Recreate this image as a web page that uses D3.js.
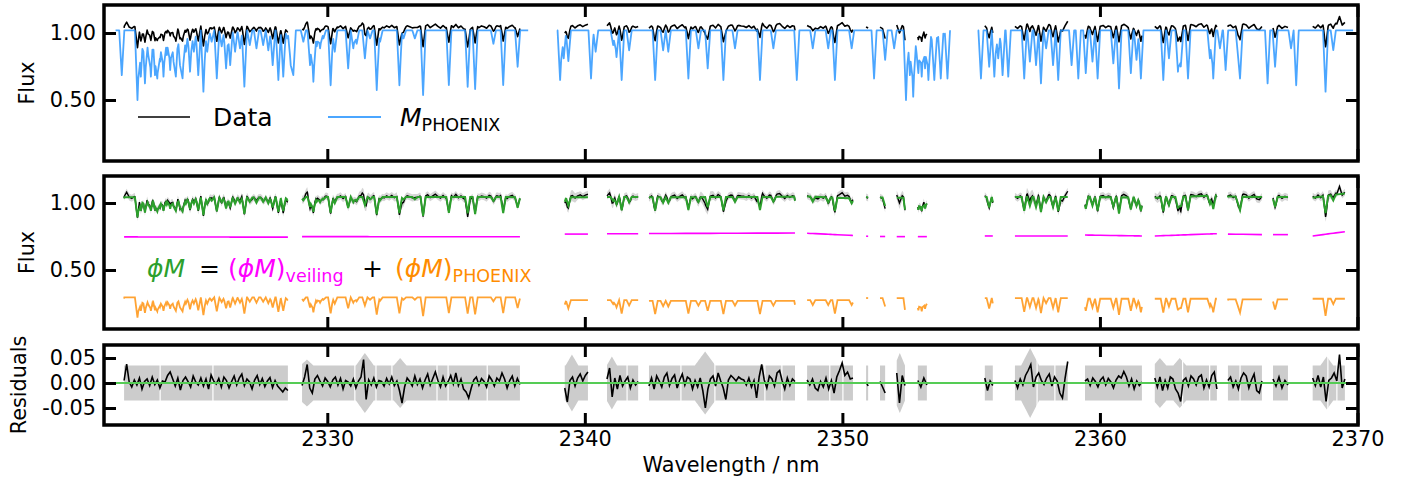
<!DOCTYPE html>
<html><head><meta charset="utf-8">
<script src="https://cdn.jsdelivr.net/npm/d3@7"></script>
<style>body{margin:0;background:#fff}svg{display:block}text{font-family:"DejaVu Sans",sans-serif}</style>
</head><body><svg id="chart" width="1416" height="485"></svg>
<script>
// ---------- axis ticks ----------
const xTickValues = [2330, 2340, 2350, 2360, 2370];
const fluxTickValues = [0.5, 1.0];
const residTickValues = [-0.05, 0.0, 0.05];

// ---------- PHOENIX model: coverage windows and absorption lines ----------
const modelStart = [2321.78, 2338.92, 2355.26];
const modelEnd   = [2337.80, 2354.18, 2369.83];
const modelContinuum = 1.02;
const lineHalfWidth = 0.1;
const lineCenters = [
  2322.02, 2322.63, 2322.76, 2322.92, 2323.05, 2323.15, 2323.23, 2323.31, 2323.40, 2323.51,
  2323.64, 2323.77, 2323.90, 2324.03, 2324.12, 2324.28, 2324.38, 2324.51, 2324.67, 2324.82,
  2324.99, 2325.19, 2325.34, 2325.51, 2325.71, 2325.90, 2326.07, 2326.23, 2326.42, 2326.61,
  2326.78, 2326.99, 2327.25, 2327.51, 2327.71, 2327.88, 2328.10, 2328.29, 2328.45, 2328.58,
  2328.68, 2329.07, 2329.33, 2329.46, 2329.59, 2329.72, 2329.85, 2330.13, 2330.29, 2330.81,
  2331.01, 2331.14, 2331.46, 2331.66, 2331.92, 2332.05, 2332.80, 2332.96, 2333.40, 2333.72,
  2334.72, 2335.45, 2335.74, 2336.45, 2336.83, 2337.39,
  2339.04, 2339.18, 2339.36, 2340.24, 2340.42, 2341.10, 2341.23, 2341.43, 2341.72, 2342.73,
  2343.04, 2343.24, 2344.02, 2344.41, 2344.77, 2345.38, 2345.83, 2346.80, 2347.32, 2348.23,
  2348.85, 2349.45, 2349.71, 2350.36, 2351.23, 2351.66, 2352.01, 2352.47, 2352.62, 2352.75,
  2352.88, 2352.95, 2353.08, 2353.21, 2353.34, 2353.47, 2353.57, 2353.69, 2353.82, 2353.95,
  2354.08,
  2355.38, 2355.70, 2355.90, 2356.05, 2356.22, 2356.44, 2357.06, 2357.28, 2357.52, 2357.71,
  2357.91, 2358.18, 2358.38, 2358.90, 2359.16, 2359.45, 2359.71, 2359.91, 2360.52, 2360.74,
  2361.20, 2361.42, 2361.59, 2362.46, 2362.68, 2363.03, 2363.14, 2363.42, 2364.27, 2364.40,
  2364.66, 2364.88, 2365.37, 2365.44, 2366.51, 2366.80, 2367.42, 2367.62, 2368.76, 2369.06
];
const lineMinima = [
  0.686, 0.500, 0.674, 0.624, 0.835, 0.674, 0.840, 0.686, 0.660, 0.786,
  0.674, 0.835, 0.724, 0.786, 0.674, 0.760, 0.661, 0.860, 0.711, 0.860,
  0.686, 0.562, 0.860, 0.935, 0.661, 0.900, 0.736, 0.760, 0.860, 0.885,
  0.600, 0.910, 0.885, 0.910, 0.870, 0.760, 0.649, 0.674, 0.960, 0.760,
  0.686, 0.935, 0.760, 0.636, 0.900, 0.885, 0.960, 0.610, 0.860, 0.736,
  0.885, 0.920, 0.810, 0.960, 0.574, 0.935, 0.610, 0.960, 0.960, 0.537,
  0.612, 0.599, 0.582, 0.920, 0.612, 0.748,
  0.649, 0.810, 0.790, 0.660, 0.860, 0.910, 0.820, 0.649, 0.870, 0.649,
  0.870, 0.860, 0.660, 0.885, 0.736, 0.649, 0.885, 0.649, 0.885, 0.649,
  0.885, 0.885, 0.649, 0.885, 0.660, 0.800, 0.885, 0.500, 0.686, 0.525,
  0.850, 0.700, 0.674, 0.736, 0.649, 0.950, 0.649, 0.950, 0.660, 0.985,
  0.660,
  0.660, 0.748, 0.674, 0.810, 0.686, 0.674, 0.660, 0.786, 0.760, 0.624,
  0.885, 0.760, 0.649, 0.760, 0.660, 0.700, 0.786, 0.660, 0.773, 0.587,
  0.700, 0.800, 0.660, 0.649, 0.810, 0.711, 0.750, 0.660, 0.810, 0.660,
  0.885, 0.724, 0.810, 0.660, 0.624, 0.748, 0.885, 0.610, 0.562, 0.873
];

// ---------- observed chunks: ranges, veiling level, PHOENIX weight, residuals ----------
const chunkStart = [2322.11, 2329.02, 2339.22, 2340.86, 2342.49, 2348.63, 2350.92, 2351.46, 2352.11,
  2352.93, 2355.53, 2356.70, 2359.42, 2362.13, 2364.97, 2366.72, 2368.26];
const chunkEnd = [2328.47, 2337.48, 2340.12, 2342.07, 2348.16, 2350.41, 2351.00, 2351.66, 2352.43,
  2353.28, 2355.84, 2358.75, 2361.63, 2364.54, 2366.29, 2367.30, 2369.51];
const veilStart = [0.747, 0.749, 0.768, 0.770, 0.772, 0.774, 0.752, 0.750, 0.749, 0.749, 0.754,
  0.754, 0.761, 0.754, 0.768, 0.764, 0.754];
const veilEnd = [0.745, 0.748, 0.768, 0.770, 0.776, 0.758, 0.752, 0.750, 0.749, 0.749, 0.754,
  0.754, 0.754, 0.771, 0.764, 0.764, 0.786];
const phoenixScale = [0.290, 0.290, 0.270, 0.270, 0.265, 0.270, 0.285, 0.285, 0.285, 0.285, 0.285,
  0.285, 0.280, 0.280, 0.275, 0.275, 0.280];
const chunkResiduals = [
  [5, 38, 2, -8, 6, -4, 10, -12, 3, 8, -5, 12, -3, 6, -10, 4, 2, 15, 22, 8, -6, 10, -14, 5, 12, 3,
   -8, 14, 2, -4, 10, -6, 8, -12, 16, 4, -2, 9, -8, 12, 5, -10, 3, 14, -4, 10, 18, -5, 8, 2, -12, 6,
   15, -3, 9, -7, 4, 11, -9, 5, -6, -12, -18, -10, -15],
  [-5, 12, 37, -10, -20, 8, 15, 4, -6, 10, 3, -8, 6, 12, -4, 9, -12, 5, 2, -6, 8, -10, 4, 12, 47,
   -33, 6, -4, 10, -8, 5, 3, -6, 9, -2, 12, -5, 4, -15, -40, -8, 10, 3, -6, 14, -3, 8, -10, 6, 18,
   -4, 9, 22, 5, -8, 12, -6, 3, 15, -2, 20, -5, 8, -12, -18, -30, -10, 6, 12, -4, 9, 3, -8, 14, 6,
   -6, 10, 4, 20, 8, -10, 5, 14, -6, 9, -3],
  [-10, -38, 5, 12, -6, 10, 18, 4, 15, 22],
  [8, 30, -28, 10, -12, 15, -6, 4, 12, -10, 6, -4, 3],
  [-6, 10, -12, 14, 4, -8, 12, 20, -5, 9, 16, -10, 6, 18, -4, 12, 8, -12, 5, -8, 10, -15, -50, -12,
   8, 14, -6, 20, 4, -10, -33, 6, 15, 10, 4, 12, 8, 6, -4, 10, -8, 5, -30, 12, 37, 6, -10, 14, 8, -6,
   20, 25, 4, -12, 10, -5, 8, 3],
  [6, -4, 8, -10, -15, 3, -8, 10, -12, 5, -20, 12, 25, 40, 15, 22, 8, 10],
  [2, -6],
  [3, -8, -20],
  [20, -40, 15, -5],
  [5, -8, 10, -4],
  [10, -15, 4, -5],
  [5, -10, 8, -4, 15, 25, 37, -8, 12, 20, 5, -3, 10, 18, -6, 12, 4, -20, -30, 10, 43],
  [4, 8, -5, 10, 3, -8, 6, 12, -4, 9, 2, -10, 6, 14, 10, 23, 12, -6, 8, -12, 4, -5, 2],
  [10, -8, 12, -15, 5, -10, 12, 8, -12, -20, -37, 5, 10, -6, 14, 8, -4, 12, 16, -10, 6, -8, 15, 22, -12],
  [5, 12, -8, 4, -12, 10, 20, 14, -10, 6, 18, -15, -20, 4],
  [8, -6, 12, -10, 5, -4],
  [10, -5, 15, -8, 12, -37, 5, 10, 20, 4, 57, -10, 8]
];
const residualUnit = 0.001;

// uncertainty band: base half-width and local bumps (centre, peak, half-width)
const sigmaBase = 0.035;
const bumpCenters = [2329.21, 2331.46, 2332.83, 2339.50, 2341.05, 2344.67, 2352.23, 2357.29, 2362.33, 2363.10, 2368.81];
const bumpPeaks = [0.047, 0.060, 0.050, 0.057, 0.053, 0.063, 0.060, 0.070, 0.050, 0.050, 0.053];
const bumpHalfWidths = [0.25, 0.35, 0.25, 0.25, 0.20, 0.40, 0.20, 0.35, 0.25, 0.25, 0.25];
const bandSplits = [2323.51, 2325.56, 2331.07, 2331.89, 2332.51, 2334.26, 2334.69, 2336.21, 2341.64,
  2343.73, 2345.05, 2346.99, 2347.65, 2349.51, 2350.02, 2357.56, 2358.25, 2363.21, 2364.26,
  2365.44, 2368.85, 2369.20];

// ---------- colours ----------
const cData = "#000000", cModel = "#1e90ff", cFit = "#2ca02c", cVeil = "#ff00ff",
      cPhoenix = "#ff8c00", cBand = "#cccccc", cZero = "#55cc55";

// ---------- layout ----------
const svg = d3.select("#chart");
const xLeft = 104, xRight = 1358;
const x = d3.scaleLinear().domain([2321.33, 2370.02]).range([xLeft, xRight]);
const panels = [
  {top: 5, bottom: 161, y: d3.scaleLinear().domain([0.5, 1.0]).range([100, 33]), ticks: fluxTickValues, fmt: d3.format(".2f"), label: "Flux"},
  {top: 176, bottom: 329, y: d3.scaleLinear().domain([0.5, 1.0]).range([270, 203]), ticks: fluxTickValues, fmt: d3.format(".2f"), label: "Flux"},
  {top: 345, bottom: 425, y: d3.scaleLinear().domain([0.0, 0.05]).range([383, 358]), ticks: residTickValues, fmt: v => d3.format(".2f")(v).replace("−", "-"), label: "Residuals"}
];

const defs = svg.append("defs");
panels.forEach((p, i) => {
  defs.append("clipPath").attr("id", "clip" + i).append("rect")
    .attr("x", xLeft).attr("y", p.top).attr("width", xRight - xLeft).attr("height", p.bottom - p.top);
  p.g = svg.append("g").attr("clip-path", `url(#clip${i})`);
});

// ---------- model helpers ----------
function modelAt(w) {
  let v = modelContinuum;
  for (let i = 0; i < lineCenters.length; i++) {
    const d = Math.abs(w - lineCenters[i]);
    if (d < lineHalfWidth) {
      const f = lineMinima[i] + (modelContinuum - lineMinima[i]) * d / lineHalfWidth;
      if (f < v) v = f;
    }
  }
  return v;
}
function modelKnots(s, e) {
  const ws = [s, e];
  lineCenters.forEach(c => [c - lineHalfWidth, c, c + lineHalfWidth].forEach(w => { if (w > s && w < e) ws.push(w); }));
  return ws.sort((a, b) => a - b);
}
function sigmaAt(w) {
  let s = sigmaBase;
  bumpCenters.forEach((c, i) => {
    const d = Math.abs(w - c);
    if (d < bumpHalfWidths[i]) s = Math.max(s, bumpPeaks[i] - (bumpPeaks[i] - sigmaBase) * d / bumpHalfWidths[i]);
  });
  return s;
}
function sigmaKnots(s, e) {
  const ws = [s, e];
  bumpCenters.forEach((c, i) => [c - bumpHalfWidths[i], c, c + bumpHalfWidths[i]].forEach(w => { if (w > s && w < e) ws.push(w); }));
  return ws.sort((a, b) => a - b);
}

// per-chunk series: fit = veiling + weighted PHOENIX model, data = fit + residual
const chunks = chunkStart.map((s, k) => {
  const e = chunkEnd[k], res = chunkResiduals[k], sc = phoenixScale[k];
  const rw = res.map((_, i) => s + (e - s) * i / (res.length - 1));
  const rv = res.map(r => r * residualUnit);
  const residAt = w => {
    if (w <= rw[0]) return rv[0];
    for (let i = 1; i < rw.length; i++) if (w <= rw[i]) return rv[i - 1] + (rv[i] - rv[i - 1]) * (w - rw[i - 1]) / (rw[i] - rw[i - 1]);
    return rv[rv.length - 1];
  };
  const veilAt = w => veilStart[k] + (veilEnd[k] - veilStart[k]) * (w - s) / (e - s);
  const mk = modelKnots(s, e);
  const fit = mk.map(w => ({w, veil: veilAt(w), phx: sc * modelAt(w), v: veilAt(w) + sc * modelAt(w)}));
  const allW = Array.from(new Set(mk.concat(rw).concat(sigmaKnots(s, e)))).sort((a, b) => a - b);
  const data = allW.map(w => ({w, v: veilAt(w) + sc * modelAt(w) + residAt(w), sig: sigmaAt(w)}));
  const resid = rw.map((w, i) => ({w, v: rv[i]}));
  return {s, e, fit, data, resid};
});

// ---------- panel 1: data and PHOENIX model ----------
const P1 = panels[0], P2 = panels[1], P3 = panels[2];
const line1 = d3.line().x(d => x(d.w)).y(d => P1.y(d.v));
chunks.forEach(c => P1.g.append("path").attr("d", line1(c.data)).attr("fill", "none")
  .attr("stroke", cData).attr("stroke-width", 1.6).attr("stroke-linejoin", "round"));
modelStart.forEach((s, i) => {
  const pts = modelKnots(s, modelEnd[i]).map(w => ({w, v: modelAt(w)}));
  P1.g.append("path").attr("d", line1(pts)).attr("fill", "none").attr("stroke", cModel)
    .attr("stroke-opacity", 0.8).attr("stroke-width", 1.8).attr("stroke-linejoin", "round");
});

// ---------- panel 2: decomposition ----------
const area2 = d3.area().x(d => x(d.w)).y0(d => P2.y(d.v - d.sig * 0.75)).y1(d => P2.y(d.v + d.sig * 0.75));
const line2 = d3.line().x(d => x(d.w)).y(d => P2.y(d.v));
chunks.forEach(c => {
  P2.g.append("path").attr("d", area2(c.data)).attr("fill", cBand).attr("fill-opacity", 0.8);
  P2.g.append("path").attr("d", line2(c.data)).attr("fill", "none").attr("stroke", cData).attr("stroke-width", 1.4);
  P2.g.append("path").attr("d", line2(c.fit)).attr("fill", "none").attr("stroke", cFit).attr("stroke-width", 2);
  P2.g.append("path").attr("d", line2(c.fit.map(d => ({w: d.w, v: d.veil})))).attr("fill", "none")
    .attr("stroke", cVeil).attr("stroke-width", 1.6);
  P2.g.append("path").attr("d", line2(c.fit.map(d => ({w: d.w, v: d.phx})))).attr("fill", "none")
    .attr("stroke", cPhoenix).attr("stroke-opacity", 0.8).attr("stroke-width", 1.8);
});

// ---------- panel 3: residuals ----------
const area3 = d3.area().x(d => x(d.w)).y0(d => P3.y(-d.sig)).y1(d => P3.y(d.sig));
const line3 = d3.line().x(d => x(d.w)).y(d => P3.y(d.v));
chunks.forEach(c => P3.g.append("path").attr("d", area3(c.data)).attr("fill", cBand));
bandSplits.forEach(w => P3.g.append("line").attr("x1", x(w)).attr("x2", x(w))
  .attr("y1", P3.top).attr("y2", P3.bottom).attr("stroke", "#fff").attr("stroke-width", 1.2));
chunks.forEach(c => P3.g.append("path").attr("d", line3(c.resid)).attr("fill", "none")
  .attr("stroke", cData).attr("stroke-width", 1.6));
P3.g.append("line").attr("x1", xLeft).attr("x2", xRight).attr("y1", P3.y(0)).attr("y2", P3.y(0))
  .attr("stroke", cZero).attr("stroke-width", 2);

// ---------- axes and frames ----------
const tickLen = 12;
panels.forEach((p, i) => {
  const last = i === panels.length - 1;
  const bottomAxis = d3.axisBottom(x).tickValues(xTickValues).tickSize(-tickLen).tickPadding(6)
    .tickFormat(last ? d3.format("d") : "");
  const topAxis = d3.axisTop(x).tickValues(xTickValues).tickSize(-tickLen).tickFormat("");
  const leftAxis = d3.axisLeft(p.y).tickValues(p.ticks).tickSize(-tickLen).tickPadding(8).tickFormat(p.fmt);
  const rightAxis = d3.axisRight(p.y).tickValues(p.ticks).tickSize(-tickLen).tickFormat("");
  const gb = svg.append("g").attr("transform", `translate(0,${p.bottom})`).call(bottomAxis);
  const gt = svg.append("g").attr("transform", `translate(0,${p.top})`).call(topAxis);
  const gl = svg.append("g").attr("transform", `translate(${xLeft},0)`).call(leftAxis);
  const gr = svg.append("g").attr("transform", `translate(${xRight},0)`).call(rightAxis);
  [gb, gt, gl, gr].forEach(g => {
    g.select(".domain").remove();
    g.selectAll(".tick line").attr("stroke", "#000").attr("stroke-width", 3);
    g.selectAll("text").attr("font-size", 20.8).attr("fill", "#000").attr("font-family", "DejaVu Sans");
  });
  svg.append("rect").attr("x", xLeft).attr("y", p.top).attr("width", xRight - xLeft)
    .attr("height", p.bottom - p.top).attr("fill", "none").attr("stroke", "#000").attr("stroke-width", 3.5);
  const cy = (p.top + p.bottom) / 2;
  svg.append("text").attr("transform", `translate(${i === 2 ? 26 : 34},${cy}) rotate(-90)`)
    .attr("text-anchor", "middle").attr("font-size", 20.8).text(p.label);
});
svg.append("text").attr("x", (xLeft + xRight) / 2).attr("y", 472).attr("text-anchor", "middle")
  .attr("font-size", 20.8).text("Wavelength / nm");

// ---------- legend (panel 1) ----------
const leg = svg.append("g");
leg.append("line").attr("x1", 138).attr("x2", 190).attr("y1", 117).attr("y2", 117).attr("stroke", cData).attr("stroke-width", 1.6);
leg.append("text").attr("x", 213).attr("y", 126).attr("font-size", 25).text("Data");
leg.append("line").attr("x1", 328).attr("x2", 381).attr("y1", 117).attr("y2", 117).attr("stroke", cModel).attr("stroke-opacity", 0.8).attr("stroke-width", 1.8);
const lt = leg.append("text").attr("x", 400).attr("y", 126).attr("font-size", 25);
lt.append("tspan").attr("font-style", "italic").text("M");
lt.append("tspan").attr("font-size", 17.5).attr("dy", 5).text("PHOENIX");

// ---------- equation (panel 2) ----------
const eq = svg.append("g").attr("font-size", 25);
const eqY = 277;
eq.append("text").attr("x", 147).attr("y", eqY).attr("fill", cFit).attr("font-style", "italic").text("ϕM");
eq.append("text").attr("x", 199).attr("y", eqY).attr("fill", "#000").text("=");
const e2 = eq.append("text").attr("x", 228).attr("y", eqY).attr("fill", cVeil);
e2.append("tspan").text("(");
e2.append("tspan").attr("font-style", "italic").text("ϕM");
e2.append("tspan").text(")");
e2.append("tspan").attr("font-size", 17.5).attr("dy", 5).text("veiling");
eq.append("text").attr("x", 362).attr("y", eqY).attr("fill", "#000").text("+");
const e3 = eq.append("text").attr("x", 395).attr("y", eqY).attr("fill", cPhoenix);
e3.append("tspan").text("(");
e3.append("tspan").attr("font-style", "italic").text("ϕM");
e3.append("tspan").text(")");
e3.append("tspan").attr("font-size", 17.5).attr("dy", 5).text("PHOENIX");
</script>
</body></html>
